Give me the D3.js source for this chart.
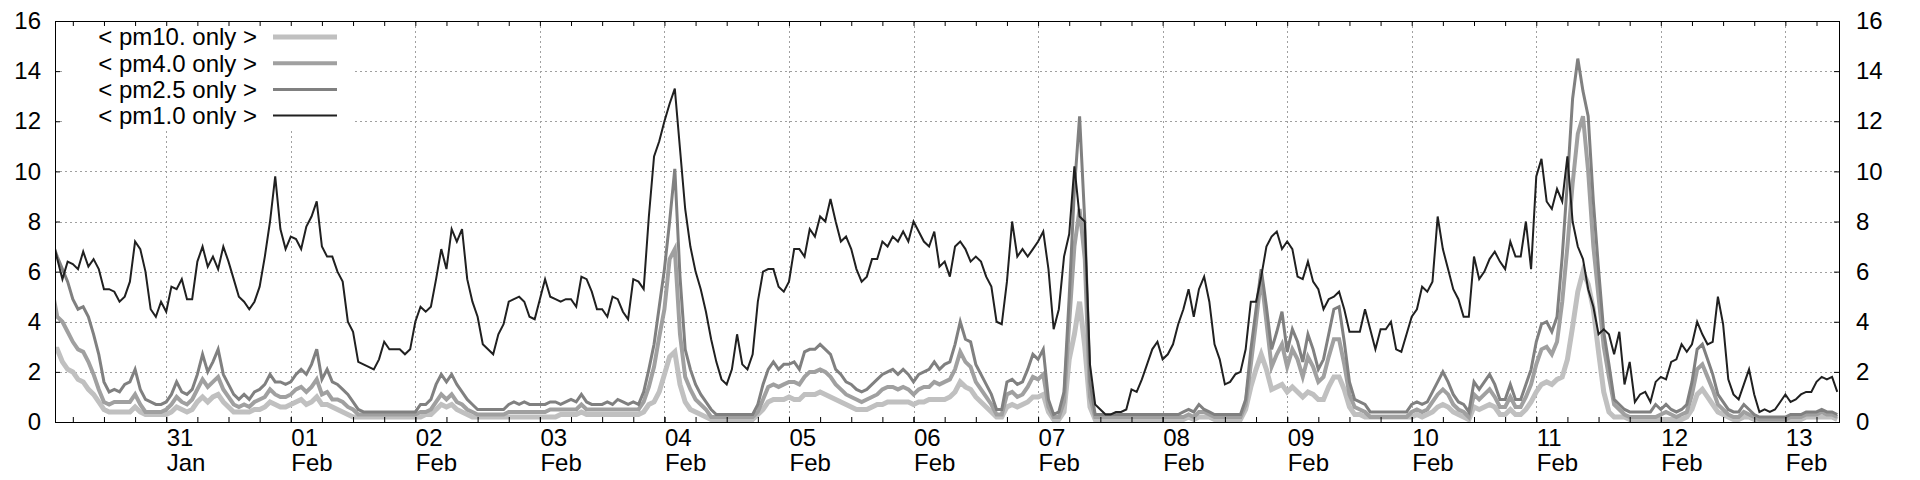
<!DOCTYPE html>
<html><head><meta charset="utf-8">
<script src="https://cdn.jsdelivr.net/npm/d3@7"></script>
<style>body{margin:0;background:#fff}svg{display:block}</style>
</head><body><svg id="c" width="1920" height="480"></svg>
<script>
// ---- data (hourly samples; first row = 30 Jan from 02:00, then one row per day from 00:00) ----
const firstDay = [2020, 0, 30];
const firstHour = 2;
const seriesNames = ["< pm10. only >", "< pm4.0 only >", "< pm2.5 only >", "< pm1.0 only >"];
const seriesColors = ["#c0c0c0", "#a0a0a0", "#808080", "#202020"];
const yTicks = [0, 2, 4, 6, 8, 10, 12, 14, 16];

const pm1 = [
 [7.4,6.5,5.7,6.4,6.3,6.1,6.8,6.2,6.5,6.1,5.3,5.3,5.2,4.8,5.0,5.6,7.2,6.9,6.0,4.5,4.2,4.8],
 [4.4,5.4,5.3,5.7,4.9,4.9,6.4,7.0,6.2,6.6,6.1,7.0,6.4,5.7,5.0,4.8,4.5,4.8,5.4,6.6,8.0,9.8,7.7,6.9],
 [7.4,7.3,6.9,7.8,8.2,8.8,7.0,6.6,6.6,6.0,5.6,4.0,3.6,2.4,2.3,2.2,2.1,2.5,3.2,2.9,2.9,2.9,2.7,2.9],
 [4.0,4.6,4.4,4.6,5.7,6.9,6.1,7.7,7.2,7.7,5.7,4.8,4.2,3.1,2.9,2.7,3.5,3.9,4.8,4.9,5.0,4.8,4.2,4.1],
 [4.9,5.7,5.0,4.9,4.8,4.9,4.9,4.6,5.8,5.7,5.2,4.5,4.5,4.2,5.0,4.9,4.4,4.1,5.7,5.6,5.3,8.2,10.6,11.2],
 [12.0,12.7,13.3,10.9,8.5,7.0,6.0,5.3,4.4,3.3,2.4,1.7,1.5,2.1,3.5,2.3,2.1,2.7,4.8,6.0,6.1,6.1,5.4,5.2],
 [5.6,6.9,6.9,6.6,7.7,7.4,8.2,8.0,8.9,8.0,7.2,7.4,6.9,6.1,5.6,5.8,6.5,6.5,7.2,7.0,7.4,7.2,7.6,7.2],
 [8.0,7.6,7.2,7.0,7.6,6.2,6.4,5.8,7.0,7.2,6.9,6.4,6.6,6.4,5.8,5.4,4.0,3.9,5.6,8.0,6.6,6.9,6.6,6.9],
 [7.2,7.6,6.1,3.7,4.5,6.6,7.5,10.2,8.2,8.0,2.3,0.7,0.5,0.3,0.3,0.4,0.4,0.5,1.3,1.2,1.7,2.3,2.9,3.2],
 [2.5,2.7,3.1,3.9,4.5,5.3,4.2,5.3,5.8,4.8,3.1,2.5,1.5,1.6,1.9,2.0,2.9,4.8,4.8,5.8,7.0,7.4,7.6,6.9],
 [7.2,6.9,5.8,5.7,6.4,5.6,5.3,4.5,4.9,5.0,5.2,4.5,3.6,3.6,3.6,4.5,3.7,2.9,3.7,3.7,4.0,2.9,2.8,3.5],
 [4.2,4.5,5.4,5.2,5.6,8.2,6.9,6.1,5.3,4.9,4.2,4.2,6.6,5.7,6.0,6.5,6.8,6.4,6.1,7.2,6.6,6.6,8.0,6.1],
 [9.8,10.5,8.8,8.5,9.3,8.8,10.6,8.0,7.0,6.5,5.3,4.6,3.5,3.7,3.5,2.7,3.6,1.5,2.4,0.8,1.1,1.2,0.8,1.6],
 [1.8,1.7,2.4,2.5,3.1,2.8,3.1,4.0,3.5,3.1,3.2,5.0,3.9,1.7,1.1,0.9,1.5,2.1,1.1,0.4,0.5,0.4,0.5,0.8],
 [1.1,0.8,0.9,1.1,1.2,1.2,1.6,1.8,1.7,1.8,1.2]
];
const pm25 = [
 [7.2,6.6,6.1,5.6,4.9,4.5,4.6,4.2,3.5,2.7,1.6,1.2,1.3,1.2,1.5,1.6,2.1,1.3,0.9,0.8,0.7,0.7],
 [0.8,1.1,1.6,1.2,1.1,1.3,1.9,2.7,2.0,2.4,2.9,1.9,1.5,1.1,0.9,1.1,0.9,1.2,1.3,1.5,1.9,1.6,1.6,1.5],
 [1.6,1.9,2.1,1.9,2.3,2.9,1.7,2.1,1.6,1.5,1.3,1.1,0.8,0.5,0.4,0.4,0.4,0.4,0.4,0.4,0.4,0.4,0.4,0.4],
 [0.4,0.7,0.7,0.9,1.5,1.9,1.6,1.9,1.5,1.2,0.9,0.7,0.5,0.5,0.5,0.5,0.5,0.5,0.7,0.8,0.7,0.8,0.7,0.7],
 [0.7,0.7,0.8,0.8,0.7,0.8,0.9,0.8,1.1,0.8,0.7,0.7,0.7,0.8,0.7,0.9,0.8,0.7,0.8,0.7,1.2,2.1,3.1,4.6],
 [6.1,8.0,10.1,5.8,2.9,2.1,1.5,1.1,0.8,0.5,0.3,0.3,0.3,0.3,0.3,0.3,0.3,0.3,0.7,1.5,2.1,2.4,2.1,2.3],
 [2.3,2.4,2.1,2.8,2.9,2.9,3.1,2.9,2.7,2.1,1.9,1.6,1.5,1.3,1.2,1.3,1.5,1.7,1.9,2.0,2.1,1.9,2.1,1.9],
 [1.6,1.9,2.0,2.1,2.4,2.1,2.3,2.4,3.1,4.0,3.3,3.2,2.3,1.9,1.5,1.1,0.5,0.5,1.6,1.7,1.5,1.6,2.1,2.7],
 [2.5,2.9,0.9,0.3,0.4,1.2,5.0,9.3,12.2,8.0,1.6,0.3,0.3,0.3,0.3,0.3,0.3,0.3,0.3,0.3,0.3,0.3,0.3,0.3],
 [0.3,0.3,0.3,0.3,0.4,0.5,0.4,0.7,0.5,0.4,0.3,0.3,0.3,0.3,0.3,0.3,0.9,2.9,4.5,6.1,4.6,2.9,3.6,4.4],
 [2.8,3.7,3.2,2.4,3.5,2.9,2.1,2.5,3.5,4.5,4.6,3.2,1.6,0.9,0.8,0.7,0.4,0.4,0.4,0.4,0.4,0.4,0.4,0.4],
 [0.7,0.8,0.7,0.8,1.2,1.6,2.0,1.6,1.1,0.8,0.7,0.4,1.6,1.3,1.6,1.9,1.5,0.9,0.9,1.5,0.9,0.9,1.5,2.1],
 [3.2,3.9,4.0,3.6,4.2,6.6,9.6,12.9,14.5,13.2,12.2,8.8,6.1,3.6,2.3,0.9,0.7,0.5,0.4,0.4,0.4,0.4,0.4,0.7],
 [0.5,0.7,0.5,0.4,0.5,0.7,1.6,2.9,3.1,2.5,1.9,1.1,0.8,0.5,0.4,0.4,0.7,0.5,0.3,0.2,0.2,0.2,0.2,0.2],
 [0.2,0.3,0.3,0.3,0.4,0.4,0.4,0.5,0.4,0.4,0.3]
];
const pm40 = [
 [5.3,4.2,4.0,3.6,3.2,2.9,2.8,2.4,1.9,1.3,0.8,0.7,0.8,0.8,0.8,0.8,1.1,0.7,0.4,0.4,0.4,0.4],
 [0.5,0.7,1.0,0.8,0.7,0.9,1.3,1.7,1.4,1.6,1.8,1.3,1.0,0.7,0.6,0.7,0.6,0.8,0.9,1.0,1.3,1.1,1.0,1.0],
 [1.1,1.3,1.4,1.2,1.4,1.7,1.1,1.2,0.9,0.9,0.8,0.6,0.5,0.3,0.3,0.3,0.3,0.3,0.3,0.3,0.3,0.3,0.3,0.3],
 [0.3,0.4,0.4,0.5,0.8,1.1,0.9,1.1,0.8,0.7,0.5,0.4,0.3,0.3,0.3,0.3,0.3,0.3,0.4,0.4,0.4,0.4,0.4,0.4],
 [0.4,0.4,0.5,0.5,0.5,0.5,0.5,0.5,0.7,0.5,0.5,0.5,0.5,0.5,0.5,0.5,0.5,0.5,0.5,0.5,0.8,1.4,2.2,3.4],
 [4.5,6.5,6.9,3.5,1.8,1.3,0.9,0.7,0.5,0.2,0.2,0.2,0.2,0.2,0.2,0.2,0.2,0.2,0.4,0.9,1.4,1.5,1.4,1.5],
 [1.6,1.6,1.5,1.8,2.0,2.0,2.1,2.0,1.8,1.5,1.3,1.1,1.0,0.9,0.8,0.9,1.0,1.1,1.3,1.4,1.4,1.3,1.4,1.3],
 [1.1,1.3,1.4,1.4,1.6,1.5,1.6,1.7,2.1,2.8,2.4,2.2,1.6,1.3,1.0,0.7,0.3,0.3,1.1,1.2,1.0,1.1,1.4,1.8],
 [1.7,1.9,0.6,0.2,0.2,0.8,4.0,7.0,8.5,6.5,1.0,0.2,0.2,0.2,0.2,0.2,0.2,0.2,0.2,0.2,0.2,0.2,0.2,0.2],
 [0.2,0.2,0.2,0.2,0.2,0.3,0.2,0.4,0.4,0.3,0.2,0.2,0.2,0.2,0.2,0.2,0.7,2.3,4.0,5.8,4.0,2.2,2.7,3.1],
 [2.2,2.9,2.5,1.8,2.6,2.2,1.6,1.8,2.6,3.3,3.3,2.3,1.1,0.6,0.5,0.4,0.2,0.2,0.2,0.2,0.2,0.2,0.2,0.2],
 [0.4,0.5,0.4,0.5,0.8,1.1,1.3,1.1,0.7,0.5,0.4,0.2,1.1,0.9,1.1,1.3,1.0,0.6,0.6,1.0,0.6,0.6,1.0,1.5],
 [2.3,2.9,3.0,2.7,3.2,4.8,7.0,9.5,11.5,12.2,10.0,7.0,5.0,3.0,1.8,0.7,0.5,0.3,0.2,0.2,0.2,0.2,0.2,0.2],
 [0.3,0.4,0.3,0.2,0.3,0.4,1.1,2.1,2.3,1.8,1.3,0.7,0.5,0.3,0.2,0.2,0.4,0.3,0.2,0.1,0.1,0.1,0.1,0.1],
 [0.1,0.2,0.2,0.2,0.3,0.3,0.3,0.4,0.3,0.3,0.2]
];
const pm10 = [
 [2.9,2.9,2.4,2.1,2.0,1.7,1.6,1.3,1.1,0.8,0.5,0.4,0.4,0.4,0.4,0.4,0.6,0.4,0.3,0.3,0.3,0.3],
 [0.3,0.4,0.6,0.5,0.4,0.5,0.8,1.0,0.8,1.0,1.1,0.8,0.6,0.4,0.4,0.4,0.4,0.5,0.5,0.6,0.8,0.7,0.6,0.6],
 [0.7,0.8,0.9,0.7,0.8,1.0,0.7,0.7,0.6,0.5,0.4,0.3,0.2,0.2,0.2,0.2,0.2,0.2,0.2,0.2,0.2,0.2,0.2,0.2],
 [0.2,0.2,0.3,0.3,0.5,0.7,0.6,0.7,0.5,0.4,0.3,0.2,0.2,0.2,0.2,0.2,0.2,0.2,0.2,0.2,0.2,0.2,0.2,0.2],
 [0.2,0.2,0.2,0.2,0.3,0.3,0.3,0.3,0.4,0.3,0.3,0.3,0.3,0.3,0.3,0.3,0.3,0.3,0.3,0.3,0.4,0.7,0.8,1.2],
 [1.9,2.6,2.8,1.5,0.8,0.5,0.4,0.3,0.2,0.1,0.1,0.1,0.1,0.1,0.1,0.1,0.1,0.1,0.3,0.5,0.8,0.9,0.9,0.9],
 [1.0,0.9,0.9,1.1,1.1,1.1,1.2,1.1,1.0,0.9,0.8,0.7,0.6,0.5,0.5,0.5,0.6,0.7,0.7,0.8,0.8,0.8,0.8,0.8],
 [0.7,0.8,0.8,0.9,0.9,0.9,0.9,1.0,1.2,1.6,1.4,1.3,1.0,0.8,0.6,0.4,0.2,0.2,0.6,0.7,0.6,0.7,0.8,1.0],
 [1.0,1.1,0.4,0.1,0.1,0.4,2.5,3.5,4.8,3.0,0.6,0.1,0.1,0.1,0.1,0.1,0.1,0.1,0.1,0.1,0.1,0.1,0.1,0.1],
 [0.1,0.1,0.1,0.1,0.1,0.2,0.1,0.2,0.2,0.2,0.1,0.1,0.1,0.1,0.1,0.1,0.5,1.4,2.1,2.7,2.1,1.3,1.4,1.5],
 [1.2,1.4,1.2,1.0,1.2,1.1,0.9,0.9,1.4,1.8,1.8,1.3,0.6,0.3,0.3,0.2,0.2,0.2,0.2,0.2,0.2,0.2,0.2,0.2],
 [0.2,0.3,0.2,0.3,0.4,0.6,0.7,0.6,0.4,0.3,0.2,0.1,0.6,0.5,0.6,0.7,0.6,0.3,0.3,0.5,0.3,0.3,0.5,0.8],
 [1.2,1.5,1.6,1.5,1.7,1.8,2.5,3.8,5.2,6.0,5.5,4.5,2.8,1.2,0.4,0.2,0.2,0.2,0.1,0.1,0.1,0.1,0.1,0.1],
 [0.1,0.1,0.1,0.1,0.1,0.2,0.5,1.1,1.3,1.0,0.7,0.4,0.3,0.2,0.1,0.1,0.2,0.2,0.1,0.1,0.1,0.1,0.1,0.1],
 [0.1,0.1,0.1,0.1,0.2,0.2,0.2,0.2,0.2,0.2,0.1]
];
const seriesData = [pm10, pm40, pm25, pm1];
const seriesWidths = [5, 4, 3, 2];

// ---- chart ----
const W = 1920, H = 480;
const L = 55, R = 1839, T = 21, B = 422;
const FONT = "'Liberation Sans', Arial, sans-serif";
const FS = 24;
const domainStart = new Date(2020, 0, 30, 2, 34);
const domainEnd = new Date(2020, 1, 13, 10, 20);

function toPoints(rows) {
  const pts = [];
  rows.forEach((row, d) => {
    row.forEach((v, h) => {
      pts.push({t: new Date(firstDay[0], firstDay[1], firstDay[2] + d, (d === 0 ? firstHour : 0) + h), v});
    });
  });
  return pts;
}

const x = d3.scaleTime().domain([domainStart, domainEnd]).range([L, R]);
const y = d3.scaleLinear().domain([0, 16]).range([B, T]);
const svg = d3.select("#c");
svg.append("rect").attr("width", W).attr("height", H).attr("fill", "#fff");

const dayTicks = d3.timeDay.range(new Date(2020, 0, 31), new Date(2020, 1, 13, 1));
const minorTicks = d3.timeHour.every(6).range(domainStart, domainEnd);

// grid
const grid = svg.append("g").attr("stroke", "#a0a0a0").attr("stroke-width", 1).attr("stroke-dasharray", "2,3");
grid.selectAll("line.h").data(yTicks.filter(v => v > 0 && v < 16)).join("line")
  .attr("x1", L).attr("x2", R).attr("y1", d => Math.round(y(d)) + 0.5).attr("y2", d => Math.round(y(d)) + 0.5);
grid.selectAll("line.v").data(dayTicks).join("line")
  .attr("y1", T).attr("y2", B).attr("x1", d => Math.round(x(d)) + 0.5).attr("x2", d => Math.round(x(d)) + 0.5);

// legend background
svg.append("rect").attr("x", 63).attr("y", T + 1).attr("width", 289).attr("height", 106).attr("fill", "#fff");

// data
svg.append("clipPath").attr("id", "clip").append("rect")
  .attr("x", L).attr("y", T).attr("width", R - L).attr("height", B - T + 10);
const line = d3.line().x(d => x(d.t)).y(d => y(d.v));
const plot = svg.append("g").attr("clip-path", "url(#clip)");
seriesData.forEach((rows, i) => {
  plot.append("path").datum(toPoints(rows))
    .attr("fill", "none").attr("stroke", seriesColors[i]).attr("stroke-width", seriesWidths[i])
    .attr("stroke-linejoin", "miter").attr("d", line);
});

// axes
function styleAxis(g) {
  g.select(".domain").remove();
  g.selectAll(".tick line").attr("stroke", "#000");
  g.selectAll("text").attr("font-family", FONT).attr("font-size", FS).attr("fill", "#000");
}
svg.append("g").attr("transform", `translate(${L},0)`)
  .call(d3.axisLeft(y).tickValues(yTicks).tickSizeInner(-5).tickSizeOuter(0).tickPadding(14).tickFormat(d3.format("d")))
  .call(styleAxis);
svg.append("g").attr("transform", `translate(${R},0)`)
  .call(d3.axisRight(y).tickValues(yTicks).tickSizeInner(-5).tickSizeOuter(0).tickPadding(17).tickFormat(d3.format("d")))
  .call(styleAxis);
svg.append("g").attr("transform", `translate(0,${B})`)
  .call(d3.axisBottom(x).tickValues(minorTicks).tickSizeInner(-5).tickSizeOuter(0).tickFormat(""))
  .call(styleAxis);
svg.append("g").attr("transform", `translate(0,${T})`)
  .call(d3.axisTop(x).tickValues(minorTicks).tickSizeInner(-5).tickSizeOuter(0).tickFormat(""))
  .call(styleAxis);
const xl = svg.append("g").attr("transform", `translate(0,${B})`)
  .call(d3.axisBottom(x).tickValues(dayTicks).tickSizeInner(-5).tickSizeOuter(0).tickFormat(""))
  .call(styleAxis);
xl.selectAll(".tick text").remove();
xl.selectAll(".tick").append("text")
  .attr("font-family", FONT).attr("font-size", FS).attr("fill", "#000").attr("text-anchor", "start")
  .each(function(d) {
    const t = d3.select(this);
    t.append("tspan").attr("x", 0).attr("y", 24).text(d3.timeFormat("%d")(d));
    t.append("tspan").attr("x", 0).attr("y", 49).text(d3.timeFormat("%b")(d));
  });

// border
svg.append("rect").attr("x", L + 0.5).attr("y", T + 0.5).attr("width", R - L).attr("height", B - T)
  .attr("fill", "none").attr("stroke", "#000").attr("stroke-width", 1);

// legend
const leg = svg.append("g");
seriesNames.forEach((name, i) => {
  const cy = 37 + i * 26.2;
  leg.append("text").attr("x", 257).attr("y", cy).attr("dy", "0.35em").attr("text-anchor", "end")
    .attr("font-family", FONT).attr("font-size", FS).attr("fill", "#000").text(name);
  leg.append("line").attr("x1", 273).attr("x2", 337).attr("y1", cy).attr("y2", cy)
    .attr("stroke", seriesColors[i]).attr("stroke-width", seriesWidths[i]);
});
</script></body></html>
